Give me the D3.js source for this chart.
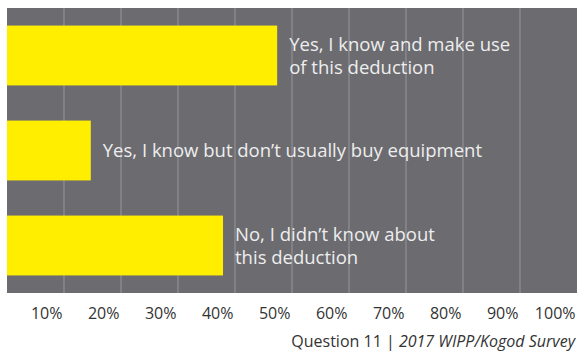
<!DOCTYPE html>
<html>
<head>
<meta charset="utf-8">
<script src="https://cdn.jsdelivr.net/npm/d3@7"></script>
<style>
  html, body { margin: 0; padding: 0; background: #fff; }
  svg { display: block; font-family: "Open Sans", "Noto Sans", sans-serif; }
</style>
</head>
<body>
<svg id="chart" width="577" height="352"></svg>
<script>
// Survey answers (share of respondents, %)
const categories = [
  ["Yes, I know and make use", "of this deduction"],
  ["Yes, I know but don\u2019t usually buy equipment"],
  ["No, I didn\u2019t know about", "this deduction"]
];
const values = [47.4, 14.7, 37.9];
const tickValues = [10, 20, 30, 40, 50, 60, 70, 80, 90, 100];

const svg = d3.select("#chart");
const plot = { left: 7, right: 577, top: 8, bottom: 293 };

const x = d3.scaleLinear().domain([0, 100]).range([plot.left, plot.right]);
const y = d3.scaleBand()
  .domain(d3.range(categories.length))
  .range([plot.top, plot.bottom])
  .paddingInner(0.37)
  .paddingOuter(0.185);

// Panel background
svg.append("rect")
  .attr("x", plot.left).attr("y", plot.top)
  .attr("width", plot.right - plot.left).attr("height", plot.bottom - plot.top)
  .attr("fill", "#6b6b70");

// Vertical gridlines
svg.append("g").selectAll("line")
  .data(tickValues.filter(d => d < 100))
  .join("line")
  .attr("x1", d => x(d)).attr("x2", d => x(d))
  .attr("y1", plot.top).attr("y2", plot.bottom)
  .attr("stroke", "#8f8f94").attr("stroke-width", 1.2);

// Bars
svg.append("g").selectAll("rect")
  .data(values)
  .join("rect")
  .attr("x", x(0))
  .attr("y", (d, i) => y(i))
  .attr("width", d => x(d) - x(0))
  .attr("height", y.bandwidth())
  .attr("fill", "#ffee00");

// Category labels beside each bar
const lineH = 23;
svg.append("g").selectAll("text")
  .data(categories)
  .join("text")
  .attr("x", (d, i) => x(values[i]) + 12)
  .attr("y", (d, i) => y(i) + y.bandwidth() / 2 + 6.5 - (d.length - 1) * lineH / 2)
  .attr("fill", "#eeeeee")
  .attr("font-size", 18.5)
  .each(function(d) {
    const t = d3.select(this);
    d.forEach((line, k) => {
      t.append("tspan")
        .attr("x", t.attr("x"))
        .attr("dy", k === 0 ? 0 : lineH)
        .text(line);
    });
  });

// X axis tick labels
const axis = d3.axisBottom(x).tickValues(tickValues).tickFormat(d => d + "%").tickSize(0);
const gAxis = svg.append("g")
  .attr("transform", `translate(0,${plot.bottom})`)
  .call(axis);
gAxis.select(".domain").remove();
gAxis.selectAll("text")
  .attr("text-anchor", "end")
  .attr("x", -2)
  .attr("dy", 0)
  .attr("y", 26)
  .attr("fill", "#333")
  .attr("font-size", 16)
  .attr("font-family", "'Open Sans', sans-serif");

// Source note
const note = svg.append("text")
  .attr("x", 575).attr("y", 347)
  .attr("text-anchor", "end")
  .attr("fill", "#333")
  .attr("font-size", 16);
note.append("tspan").text("Question 11 | ");
note.append("tspan").attr("font-style", "italic").text("2017 WIPP/Kogod Survey");
</script>
</body>
</html>
